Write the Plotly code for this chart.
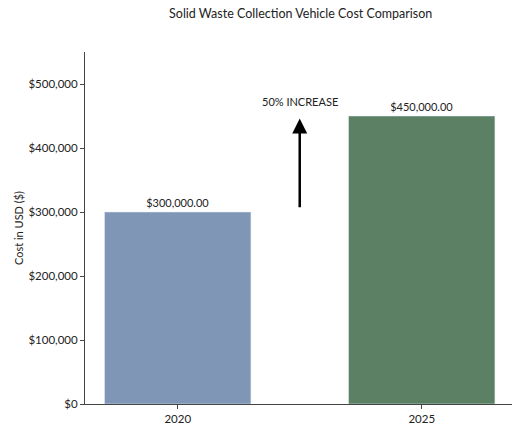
import plotly.graph_objects as go

years = ["2020", "2025"]
costs = [300000, 450000]
labels = ["$300,000.00", "$450,000.00"]
colors = ["#8096B7", "#5B8064"]
yticks = [0, 100000, 200000, 300000, 400000, 500000]
yticktext = ["$0", "$100,000", "$200,000", "$300,000", "$400,000", "$500,000"]

fnt = "Lato, Inter, sans-serif"

fig = go.Figure()
fig.add_trace(go.Bar(x=years, y=costs, marker_color=colors, width=0.6,
                     text=labels, textposition="outside",
                     textfont=dict(size=11, color="#222"), cliponaxis=False))

fig.add_annotation(x=0.5, y=446000, ax=0.5, ay=305000, xref="x", yref="y",
                   axref="x", ayref="y", text="", showarrow=True,
                   arrowhead=2, arrowsize=1.2, arrowwidth=2.5, arrowcolor="black")
fig.add_annotation(x=0.5, y=472000, xref="x", yref="y", text="50% INCREASE",
                   showarrow=False, font=dict(size=11, color="#222", family=fnt))

fig.update_layout(
    width=514, height=426,
    margin=dict(l=85, r=2, t=52, b=22),
    paper_bgcolor="white", plot_bgcolor="white",
    font=dict(family=fnt, size=11, color="#222"),
    title=dict(text="Solid Waste Collection Vehicle Cost Comparison",
               x=0.585, xanchor="center", y=0.968, yanchor="middle",
               font=dict(size=12.5, color="#222")),
    showlegend=False,
    bargap=0.4,
)
fig.update_xaxes(range=[-0.38, 1.37], showline=True, linecolor="#444",
                 ticks="outside", ticklen=4, tickcolor="#444", showgrid=False,
                 tickfont=dict(size=11.5))
fig.update_yaxes(range=[0, 550000], showline=True, linecolor="#444",
                 ticks="outside", ticklen=4, tickcolor="#444", showgrid=False,
                 tickvals=yticks, ticktext=yticktext, zeroline=False,
                 tickfont=dict(size=11.5),
                 title=dict(text="Cost in USD ($)", standoff=2,
                            font=dict(size=11, color="#222")))

fig.write_html("out.html")
